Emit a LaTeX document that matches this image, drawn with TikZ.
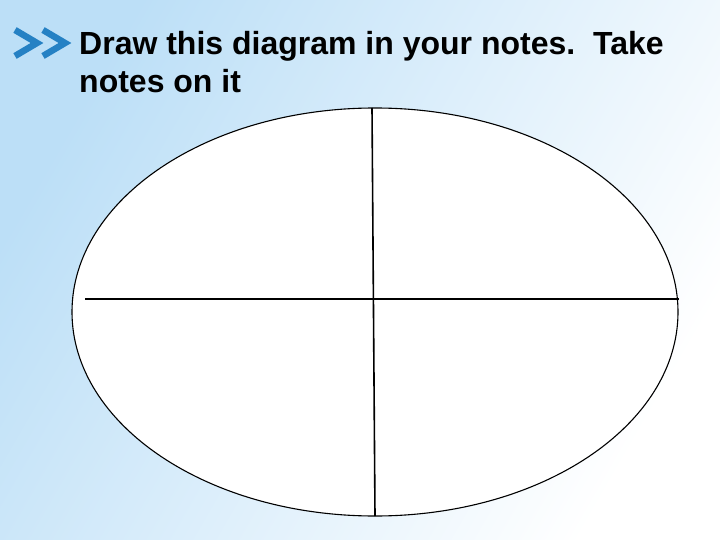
\documentclass[tikz,border=0pt]{standalone}
\usepackage{fontspec}
\setmainfont{Liberation Sans}
\usetikzlibrary{shapes.geometric}
\definecolor{bgblue}{HTML}{BCDFF7}
\definecolor{chev}{HTML}{2581C4}
\begin{document}
\begin{tikzpicture}[x=1bp,y=-1bp,
  divider/.style={line width=1.1bp,black},
  outline/.style={line width=1.1bp,black,fill=white}]
\useasboundingbox (0,0) rectangle (720,540);
\shade[shading=axis,top color=bgblue,bottom color=white,shading angle=60] (0,0) rectangle (720,540);
% chevrons
\draw[chev,line width=6.5bp,miter limit=10] (15,30) -- (37,43) -- (15,56);
\draw[chev,line width=6.5bp,miter limit=10] (43,30) -- (65,43) -- (43,56);
\node[anchor=base west,inner sep=0pt,font=\bfseries\fontsize{32bp}{38bp}\selectfont,align=left] (title) at (79,92.5)
  {Draw this diagram in your notes.\ \ Take\\notes on it};
\node[draw,ellipse,outline,minimum width=606bp,minimum height=408bp,inner sep=0pt] (oval) at (375,312) {};
\coordinate (hl) at (85,299);
\coordinate (vt) at (372,108);
\coordinate (vb) at (375,516);
\draw[divider] (hl) -- (oval.east |- hl);
\draw[divider,line width=1.6bp] (vt) -- (vb);
\end{tikzpicture}
\end{document}
